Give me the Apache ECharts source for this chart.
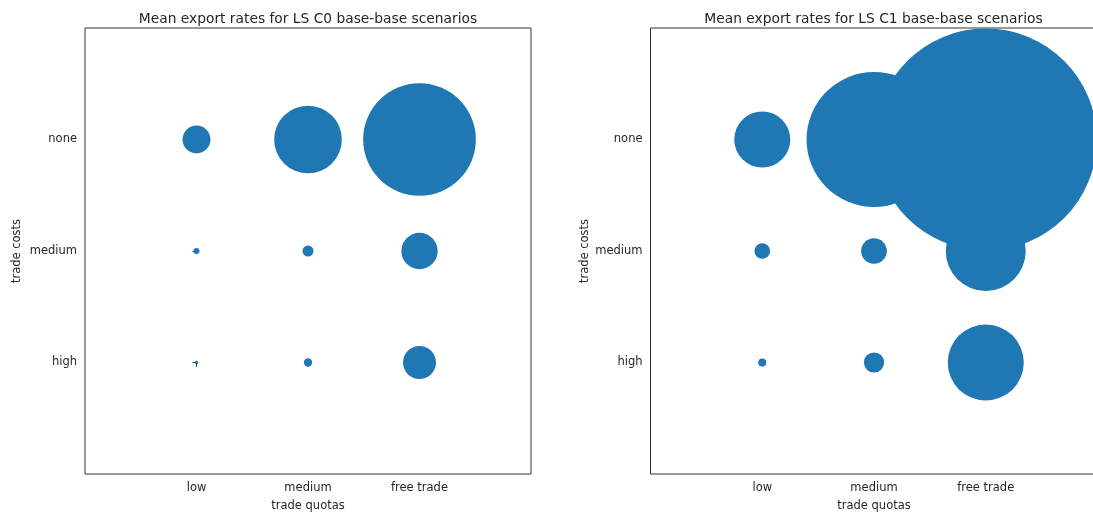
<!DOCTYPE html>
<html>
<head>
<meta charset="utf-8">
<script src="https://cdn.jsdelivr.net/npm/echarts@6/dist/echarts.min.js"></script>
<style>
  html, body { margin: 0; padding: 0; background: #fff; }
  #chart { width: 1093px; height: 516px; }
</style>
</head>
<body>
<div id="chart"></div>
<script>
// Category labels (x = trade quotas, y = trade costs, bottom to top)
const quotaLabels = ['low', 'medium', 'free trade'];
const costLabels = ['high', 'medium', 'none'];

// Mean export rates, one array per trade-cost level, ordered by quota
const c0None = [7.8, 45.8, 127];
const c0Medium = [0.36, 1.21, 13.2];
const c0High = [0.11, 0.69, 10.9];

const c1None = [31.4, 182, 493];
const c1Medium = [2.46, 6.6, 64];
const c1High = [0.64, 4.1, 57.8];

const titles = [
  'Mean export rates for LS C0 base-base scenarios',
  'Mean export rates for LS C1 base-base scenarios'
];

function points(high, medium, none) {
  const rows = [high, medium, none];
  const out = [];
  rows.forEach((row, yi) => {
    row.forEach((v, xi) => out.push([xi, yi, v]));
  });
  return out;
}

const FONT = 'DejaVu Sans';
const INK = '#262626';
const BLUE = '#1f77b4';
// unit disc drawn as two arcs, scaled by symbolSize
const DISC = 'path://M10,0A10,10,0,1,1,-10,0A10,10,0,1,1,10,0Z';

const grids = [
  { left: 85, top: 28, width: 446, height: 446 },
  { left: 650.5, top: 28, width: 447, height: 446 }
];

function xAxis(gi) {
  return {
    gridIndex: gi, type: 'value', min: -1, max: 3, interval: 1,
    name: 'trade quotas', nameLocation: 'middle', nameGap: 26,
    nameTextStyle: { fontFamily: FONT, fontSize: 11.5, color: INK },
    axisLine: { show: false },
    axisTick: { show: true, customValues: [0, 1, 2], length: 4, lineStyle: { color: INK, width: 1 } },
    axisLabel: {
      customValues: [0, 1, 2], margin: 8,
      formatter: v => quotaLabels[v] || '',
      fontFamily: FONT, fontSize: 11.5, color: INK
    },
    splitLine: { show: false }
  };
}

function yAxis(gi, gap) {
  return {
    gridIndex: gi, type: 'value', min: -1, max: 3, interval: 1,
    name: 'trade costs', nameLocation: 'middle', nameGap: gap, nameRotate: 90,
    nameTextStyle: { fontFamily: FONT, fontSize: 11.5, color: INK },
    axisLine: { show: false },
    axisTick: { show: true, customValues: [0, 1, 2], length: 4, lineStyle: { color: INK, width: 1 } },
    axisLabel: {
      customValues: [0, 1, 2], margin: 8,
      formatter: v => costLabels[v] || '',
      fontFamily: FONT, fontSize: 11.5, color: INK
    },
    splitLine: { show: false }
  };
}

function bubbles(gi, data) {
  return {
    type: 'scatter', xAxisIndex: gi, yAxisIndex: gi,
    data: data,
    symbol: DISC,
    symbolSize: d => Math.sqrt(d[2]) * 10,
    itemStyle: { color: BLUE, opacity: 1, borderWidth: 0 },
    emphasis: { disabled: true },
    clip: false,
    animation: false
  };
}

const chart = echarts.init(document.getElementById('chart'), null, { renderer: 'canvas' });
chart.setOption({
  backgroundColor: '#ffffff',
  animation: false,
  title: titles.map((t, i) => ({
    text: t,
    left: grids[i].left + (i === 0 ? grids[i].width / 2 : 223),
    top: 12,
    textAlign: 'center',
    padding: 0,
    textStyle: { fontFamily: FONT, fontSize: 13.8, fontWeight: 'normal', color: INK }
  })),
  grid: grids.map(g => Object.assign({
    show: true, borderColor: '#333', borderWidth: 1, backgroundColor: 'transparent',
    containLabel: false, outerBoundsMode: 'none'
  }, g)),
  xAxis: [xAxis(0), xAxis(1)],
  yAxis: [yAxis(0, 62), yAxis(1, 58)],
  series: [
    bubbles(0, points(c0High, c0Medium, c0None)),
    bubbles(1, points(c1High, c1Medium, c1None))
  ]
});
</script>
</body>
</html>
